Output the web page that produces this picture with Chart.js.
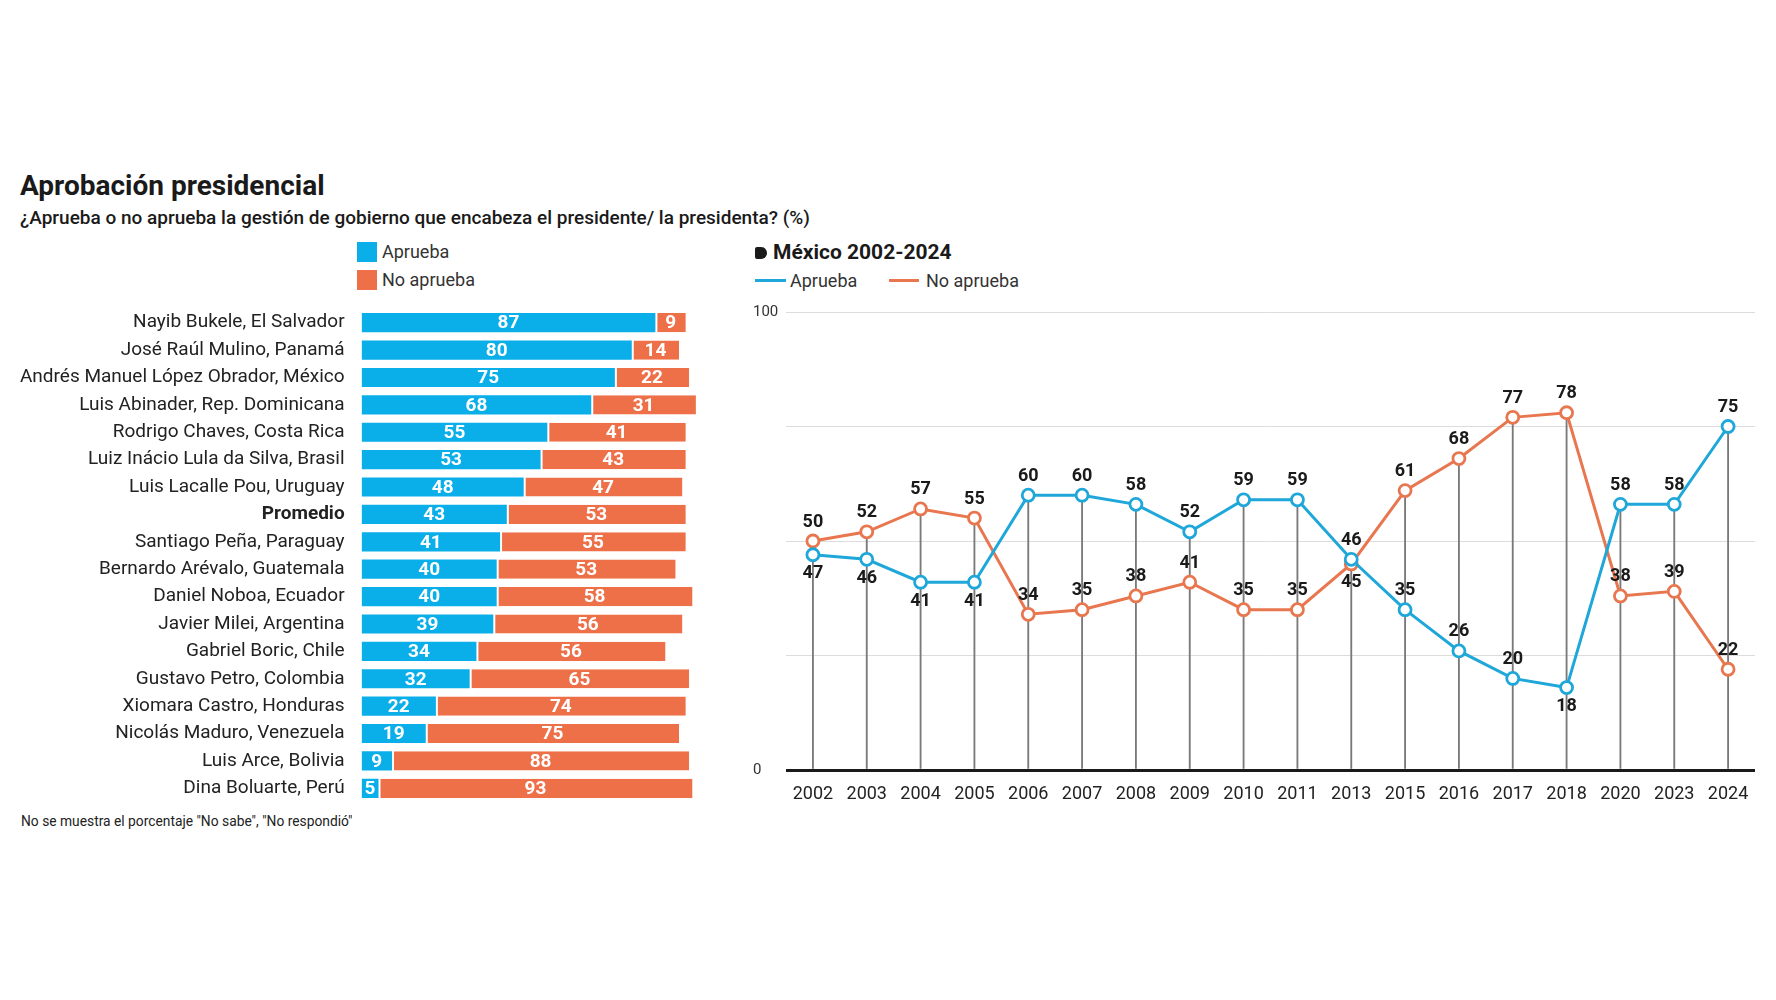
<!DOCTYPE html>
<html lang="es">
<head>
<meta charset="utf-8">
<title>Aprobación presidencial</title>
<script src="https://cdn.jsdelivr.net/npm/chart.js"></script>
<style>
  html, body { margin:0; padding:0; background:#fff; width:1776px; height:1000px; overflow:hidden; font-family: Roboto, "Noto Sans", sans-serif; color:#1a1a1a; }
  .abs { position:absolute; white-space:nowrap; }
  #title { left:20px; top:170px; font-size:28px; line-height:32px; font-weight:700; color:#1a1a1a; }
  #subtitle { left:20px; top:206px; font-size:19px; line-height:23px; font-weight:500; color:#1a1a1a; }
  .sq { position:absolute; width:20px; height:20px; }
  .lg { font-size:18px; line-height:22px; color:#333; }
  #mxTitle { left:773px; top:240px; font-size:21px; line-height:25px; font-weight:700; color:#1a1a1a; }
  #mxIcon { position:absolute; left:755px; top:247px; width:12px; height:12px; background:#1a1a1a; border-radius:2px 6px 6px 2px; }
  .ln { position:absolute; height:3px; }
  #foot { left:21px; top:813px; font-size:13.8px; line-height:17px; color:#222; }
  canvas { position:absolute; }
</style>
</head>
<body>
<div id="title" class="abs">Aprobación presidencial</div>
<div id="subtitle" class="abs">¿Aprueba o no aprueba la gestión de gobierno que encabeza el presidente/ la presidenta? (%)</div>

<div class="sq" style="left:357px;top:242px;background:#0aaee8"></div>
<div class="abs lg" style="left:382px;top:241px">Aprueba</div>
<div class="sq" style="left:357px;top:270px;background:#ee7049"></div>
<div class="abs lg" style="left:382px;top:269px">No aprueba</div>

<div id="mxIcon"></div>
<div id="mxTitle" class="abs">México 2002-2024</div>
<div class="ln" style="left:755px;top:279px;width:31px;background:#1ea7d8"></div>
<div class="abs lg" style="left:790px;top:270px">Aprueba</div>
<div class="ln" style="left:889px;top:279px;width:30px;background:#e8764f"></div>
<div class="abs lg" style="left:926px;top:270px">No aprueba</div>

<canvas id="bars" width="710" height="510" style="left:0;top:300px"></canvas>
<canvas id="lines" width="1036" height="530" style="left:740px;top:290px"></canvas>

<div id="foot" class="abs">No se muestra el porcentaje "No sabe", "No respondió"</div>

<script>
// ---------- Data: presidential approval by country ----------
const presidentes = [
  "Nayib Bukele, El Salvador",
  "José Raúl Mulino, Panamá",
  "Andrés Manuel López Obrador, México",
  "Luis Abinader, Rep. Dominicana",
  "Rodrigo Chaves, Costa Rica",
  "Luiz Inácio Lula da Silva, Brasil",
  "Luis Lacalle Pou, Uruguay",
  "Promedio",
  "Santiago Peña, Paraguay",
  "Bernardo Arévalo, Guatemala",
  "Daniel Noboa, Ecuador",
  "Javier Milei, Argentina",
  "Gabriel Boric, Chile",
  "Gustavo Petro, Colombia",
  "Xiomara Castro, Honduras",
  "Nicolás Maduro, Venezuela",
  "Luis Arce, Bolivia",
  "Dina Boluarte, Perú"
];
const aprueba   = [87, 80, 75, 68, 55, 53, 48, 43, 41, 40, 40, 39, 34, 32, 22, 19, 9, 5];
const noAprueba = [9, 14, 22, 31, 41, 43, 47, 53, 55, 53, 58, 56, 56, 65, 74, 75, 88, 93];

// ---------- Data: México 2002-2024 ----------
const anios        = ["2002","2003","2004","2005","2006","2007","2008","2009","2010","2011","2013","2015","2016","2017","2018","2020","2023","2024"];
const mxAprueba    = [47, 46, 41, 41, 60, 60, 58, 52, 59, 59, 46, 35, 26, 20, 18, 58, 58, 75];
const mxNoAprueba  = [50, 52, 57, 55, 34, 35, 38, 41, 35, 35, 45, 61, 68, 77, 78, 38, 39, 22];
const yTickLabels  = [0, 100];

// label placement (indices whose label goes below the point)
const apruebaLabelBelow   = [0, 1, 2, 3, 14];
const noApruebaLabelBelow = [10];

const FONT = 'Roboto, "Noto Sans", sans-serif';
const BLUE_BAR = '#0aaee8', ORANGE_BAR = '#ee7049';
const BLUE_LINE = '#1ea7d8', ORANGE_LINE = '#e8764f';

// ---------- Bar value labels plugin ----------
const barLabels = {
  id: 'barLabels',
  afterDatasetsDraw(chart) {
    const ctx = chart.ctx;
    ctx.save();
    ctx.font = 'bold 19px ' + FONT;
    ctx.fillStyle = '#fff';
    ctx.textAlign = 'center';
    ctx.textBaseline = 'middle';
    chart.data.datasets.forEach((ds, di) => {
      const meta = chart.getDatasetMeta(di);
      meta.data.forEach((el, i) => {
        const p = el.getCenterPoint();
        ctx.fillText(String(ds.data[i]), p.x, p.y + 1);
      });
    });
    ctx.restore();
  }
};

new Chart(document.getElementById('bars'), {
  type: 'bar',
  data: {
    labels: presidentes,
    datasets: [
      { label: 'Aprueba', data: aprueba, backgroundColor: BLUE_BAR, borderWidth: 0 },
      { label: 'No aprueba', data: noAprueba, backgroundColor: ORANGE_BAR,
        borderColor: '#ffffff', borderWidth: {left: 2, right: 0, top: 0, bottom: 0}, borderSkipped: false }
    ]
  },
  options: {
    indexAxis: 'y',
    responsive: false,
    animation: false,
    devicePixelRatio: 1,
    datasets: { bar: { barPercentage: 0.7, categoryPercentage: 1.0 } },
    layout: { autoPadding: false, padding: { top: 9, right: 10.7, bottom: 8, left: 0 } },
    plugins: { legend: { display: false }, tooltip: { enabled: false } },
    scales: {
      x: { stacked: true, display: false, min: 0, max: 100 },
      y: {
        stacked: true,
        grid: { display: false, drawTicks: false },
        border: { display: false },
        afterFit: s => { s.width = 361.6; s.paddingTop = 0; s.paddingBottom = 0; },
        ticks: {
          padding: 17,
          color: '#222',
          font: ctx => ({ family: FONT, size: 19, weight: presidentes[ctx.index] === 'Promedio' ? 'bold' : 'normal' })
        }
      }
    }
  },
  plugins: [barLabels]
});

// ---------- Line value labels plugin ----------
const lineLabels = {
  id: 'lineLabels',
  afterDatasetsDraw(chart) {
    const ctx = chart.ctx;
    ctx.save();
    ctx.font = 'bold 18px ' + FONT;
    ctx.fillStyle = '#1a1a1a';
    ctx.textAlign = 'center';
    ctx.textBaseline = 'middle';
    chart.data.datasets.forEach((ds, di) => {
      if (!ds.labelBelow) return;
      const meta = chart.getDatasetMeta(di);
      meta.data.forEach((el, i) => {
        const below = ds.labelBelow.includes(i);
        ctx.fillText(String(ds.data[i]), el.x, el.y + (below ? 19 : -19));
      });
    });
    ctx.restore();
  }
};

new Chart(document.getElementById('lines'), {
  type: 'line',
  data: {
    labels: anios,
    datasets: [
      { label: 'Aprueba', data: mxAprueba, borderColor: BLUE_LINE, borderWidth: 3,
        pointRadius: 6, pointBorderWidth: 2.8, pointBackgroundColor: '#fff', pointBorderColor: BLUE_LINE,
        tension: 0, order: 0, labelBelow: apruebaLabelBelow },
      { label: 'No aprueba', data: mxNoAprueba, borderColor: ORANGE_LINE, borderWidth: 3,
        pointRadius: 6, pointBorderWidth: 2.8, pointBackgroundColor: '#fff', pointBorderColor: ORANGE_LINE,
        tension: 0, order: 1, labelBelow: noApruebaLabelBelow },
      { type: 'bar', label: 'guía', data: anios.map((_, i) => Math.max(mxAprueba[i], mxNoAprueba[i])),
        backgroundColor: '#7a7a7a', barThickness: 1.2, order: 5 }
    ]
  },
  options: {
    responsive: false,
    animation: false,
    devicePixelRatio: 1,
    layout: { autoPadding: false, padding: { top: 22, right: 21, bottom: 0, left: 13 } },
    plugins: { legend: { display: false }, tooltip: { enabled: false } },
    scales: {
      x: {
        offset: true,
        grid: { display: false },
        border: { display: false },
        afterFit: s => { s.height = 50; },
        ticks: { padding: 6, color: '#222', font: { family: FONT, size: 18 }, maxRotation: 0, autoSkip: false }
      },
      y: {
        min: 0, max: 100,
        border: { display: false },
        afterFit: s => { s.width = 33; },
        grid: {
          drawTicks: false,
          color: ctx => ctx.tick && ctx.tick.value === 0 ? '#1a1a1a' : '#dcdcdc',
          lineWidth: ctx => ctx.tick && ctx.tick.value === 0 ? 3 : 1
        },
        ticks: {
          stepSize: 25,
          crossAlign: 'far',
          padding: 0,
          color: '#333',
          font: { family: FONT, size: 15 },
          callback: v => yTickLabels.includes(v) ? String(v) : ''
        }
      }
    }
  },
  plugins: [lineLabels]
});
</script>
</body>
</html>
